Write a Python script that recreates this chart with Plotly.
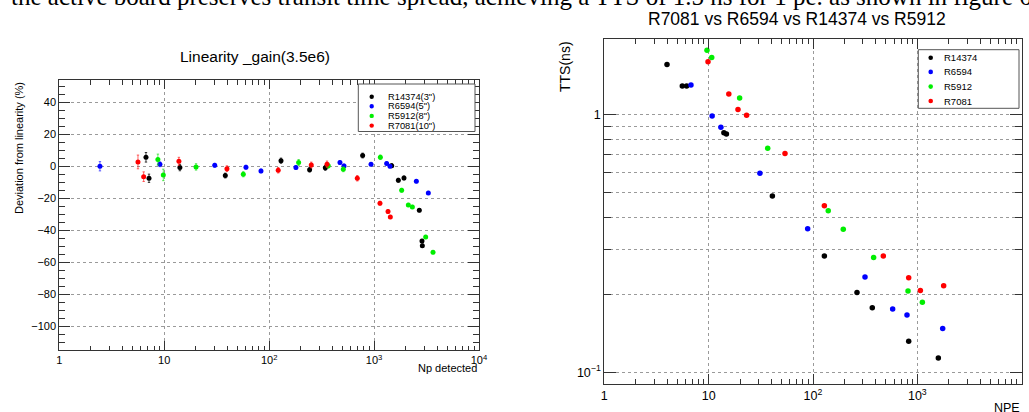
import plotly.graph_objects as go

W, H = 1029, 412

# ---------------- Left panel: Linearity ----------------
lin_names = ['R14374(3")', 'R6594(5")', 'R5912(8")', 'R7081(10")']

lin_x_R14374 = [6.7, 7.16, 14.1, 38.2, 129.7, 243, 343, 778, 1472, 1703, 1928, 2699, 2862, 2884]
lin_y_R14374 = [5.6, -7.5, -0.8, -5.8, 3.5, -2.1, -1.0, 6.7, 0.4, -8.75, -7.3, -27.5, -46.7, -49.6]
lin_e_R14374 = [3.0, 2.6, 2.0, 1.5, 1.6, 1.5, 1.5, 1.5, 1.2, 1.2, 1.2, 1.0, 1.0, 1.0]

lin_x_R6594 = [2.44, 9.1, 30.3, 60.1, 83.6, 180, 473, 517, 935, 1318, 1418, 2529, 3290]
lin_y_R6594 = [0.0, 1.25, 0.6, -0.6, -2.9, -0.8, 2.3, 0.2, 1.25, 1.7, 0.0, -9.4, -16.7]
lin_e_R6594 = [2.9, 1.5, 1.2, 1.2, 1.2, 1.2, 1.2, 1.2, 1.0, 1.0, 1.0, 1.0, 1.0]

lin_x_R5912 = [8.7, 9.8, 20.1, 56.7, 191, 366, 509, 1148, 1832, 2120, 2316, 3103, 3645]
lin_y_R5912 = [4.2, -5.4, -0.4, -5.0, 2.3, 0.4, -1.9, 5.6, -15.0, -24.2, -25.4, -44.2, -53.75]
lin_e_R5912 = [3.4, 3.6, 2.0, 1.6, 1.9, 1.6, 1.5, 1.4, 1.2, 1.0, 1.0, 1.0, 1.0]

lin_x_R7081 = [5.62, 6.37, 13.8, 39.6, 122, 252, 356, 692, 1138, 1358, 1429]
lin_y_R7081 = [2.7, -6.5, 3.1, -1.5, -2.5, 0.8, 1.25, -7.5, -23.1, -28.3, -31.7]
lin_e_R7081 = [4.3, 3.0, 2.5, 1.8, 1.7, 1.8, 2.0, 1.7, 1.2, 1.2, 1.0]

# ---------------- Right panel: TTS ----------------
tts_names = ["R14374", "R6594", "R5912", "R7081"]

tts_x_R14374 = [3.99, 5.59, 6.15, 14.0, 14.8, 40.8, 128.5, 264, 370, 826, 1589]
tts_y_R14374 = [1.57, 1.296, 1.296, 0.853, 0.843, 0.484, 0.283, 0.204, 0.178, 0.132, 0.1137]

tts_x_R6594 = [6.77, 10.8, 13.1, 31.0, 88.9, 315, 580, 796, 1749]
tts_y_R6594 = [1.308, 0.991, 0.895, 0.593, 0.361, 0.2346, 0.176, 0.167, 0.148]

tts_x_R5912 = [9.64, 10.7, 19.8, 36.8, 140, 195, 381, 814, 1117]
tts_y_R5912 = [1.784, 1.671, 1.164, 0.742, 0.424, 0.360, 0.279, 0.207, 0.187]

tts_x_R7081 = [9.86, 15.6, 19.1, 23.1, 53.9, 128.5, 472, 826, 1069, 1787]
tts_y_R7081 = [1.611, 1.207, 1.049, 0.997, 0.708, 0.444, 0.283, 0.233, 0.208, 0.217]

colors = ["#000000", "#0000ff", "#00ee00", "#ff0000"]
err_colors = ["rgba(0,0,0,0.75)", "rgba(0,0,255,0.6)", "rgba(0,220,0,0.6)", "rgba(255,0,0,0.6)"]

log_tickvals = [1, 10, 100, 1000, 10000]
log_ticktext = ["1", "10", "10<sup>2</sup>", "10<sup>3</sup>", "10<sup>4</sup>"]
log_minor = [m * d for d in (1, 10, 100, 1000) for m in range(2, 10)]

lin_tickvals = [-100, -80, -60, -40, -20, 0, 20, 40]
lin_ticktext = ["\u2212100", "\u221280", "\u221260", "\u221240", "\u221220", "0", "20", "40"]
lin_minor = [v for v in range(-110, 55, 5) if v % 20 != 0]

tts_tickvals = [0.1, 1]
tts_ticktext = ["10<sup>\u22121</sup>", "1"]
tts_minor = [0.2, 0.3, 0.4, 0.5, 0.6, 0.7, 0.8, 0.9]

FONT = "Liberation Sans, Arial, Helvetica, sans-serif"


def fx(p):
    return p / W


def fy(p):
    return 1 - p / H


fig = go.Figure()

lin_sets = [
    (lin_x_R14374, lin_y_R14374, lin_e_R14374),
    (lin_x_R6594, lin_y_R6594, lin_e_R6594),
    (lin_x_R5912, lin_y_R5912, lin_e_R5912),
    (lin_x_R7081, lin_y_R7081, lin_e_R7081),
]
for (xs, ys, es), name, c, ec in zip(lin_sets, lin_names, colors, err_colors):
    fig.add_trace(go.Scatter(
        x=xs, y=ys, mode="markers", name=name, showlegend=False,
        marker=dict(color=c, size=5, line=dict(width=0)),
        error_y=dict(type="data", array=es, color=ec, thickness=1, width=1.2),
        xaxis="x", yaxis="y",
    ))

tts_sets = [
    (tts_x_R14374, tts_y_R14374),
    (tts_x_R6594, tts_y_R6594),
    (tts_x_R5912, tts_y_R5912),
    (tts_x_R7081, tts_y_R7081),
]
for (xs, ys), name, c in zip(tts_sets, tts_names, colors):
    fig.add_trace(go.Scatter(
        x=xs, y=ys, mode="markers", name=name, showlegend=False,
        marker=dict(color=c, size=5.5, line=dict(width=0)),
        xaxis="x2", yaxis="y2",
    ))

frame = dict(showline=True, linecolor="#333333", linewidth=1, mirror="ticks",
             ticks="inside", tickcolor="#333333", zeroline=False, automargin=False,
             gridcolor="#9a9a9a", griddash="dot", gridwidth=1)

fig.update_layout(
    width=W, height=H,
    margin=dict(l=0, r=0, t=0, b=0, autoexpand=False),
    paper_bgcolor="white", plot_bgcolor="white",
    font=dict(family=FONT, color="black"),
    xaxis=dict(domain=[fx(59.3), fx(479)], type="log", range=[0, 4],
               tickvals=log_tickvals, ticktext=log_ticktext, ticklen=9,
               tickfont=dict(size=11), anchor="y", showgrid=True,
               minor=dict(tickvals=log_minor, ticklen=4.5, ticks="inside",
                          tickcolor="#333333", showgrid=False),
               **frame),
    yaxis=dict(domain=[fy(350), fy(80)], range=[-114.8, 53.9],
               tickvals=lin_tickvals, ticktext=lin_ticktext, ticklen=11,
               tickfont=dict(size=11), anchor="x", showgrid=True,
               minor=dict(tickvals=lin_minor, ticklen=6, ticks="inside",
                          tickcolor="#333333", showgrid=False),
               **frame),
    xaxis2=dict(domain=[fx(604.3), fx(1021.7)], type="log", range=[0, 4],
                tickvals=log_tickvals, ticktext=log_ticktext, ticklen=10,
                tickfont=dict(size=12.5), anchor="y2", showgrid=True,
                minor=dict(tickvals=log_minor, ticklen=5, ticks="inside",
                           tickcolor="#333333", showgrid=False),
                **frame),
    yaxis2=dict(domain=[fy(384), fy(39.3)], type="log", range=[-1.0455, 0.294],
                tickvals=tts_tickvals, ticktext=tts_ticktext, ticklen=12,
                tickfont=dict(size=12.5), anchor="x2", showgrid=True,
                minor=dict(tickvals=tts_minor, ticklen=6.5, ticks="inside",
                           tickcolor="#333333", showgrid=True,
                           gridcolor="#9a9a9a", griddash="dot", gridwidth=1),
                **frame),
)

annotations = []
shapes = []

# cut-off line of body text at the very top
annotations.append(dict(
    text="the active board preserves transit time spread, achieving a TTS of 1.5 ns for 1 pe. as shown in figure 6",
    x=fx(9), y=fy(12), xref="paper", yref="paper", xanchor="left", yanchor="bottom",
    showarrow=False, font=dict(family="Liberation Serif, DejaVu Serif, serif", size=25, color="black"),
))

# titles
annotations.append(dict(text="Linearity _gain(3.5e6)", x=fx(255), y=fy(56.7), xref="paper", yref="paper",
                        xanchor="center", yanchor="middle", showarrow=False, font=dict(size=15.5)))
annotations.append(dict(text="R7081 vs R6594 vs R14374 vs R5912", x=fx(796.7), y=fy(19.3), xref="paper",
                        yref="paper", xanchor="center", yanchor="middle", showarrow=False, font=dict(size=17.5)))

# axis titles
annotations.append(dict(text="Deviation from linearity (%)", x=fx(19), y=fy(80), xref="paper", yref="paper",
                        xanchor="center", yanchor="top", textangle=-90, showarrow=False, font=dict(size=11)))
annotations.append(dict(text="Np detected", x=fx(479), y=fy(367.5), xref="paper", yref="paper",
                        xanchor="right", yanchor="middle", showarrow=False, font=dict(size=11)))
annotations.append(dict(text="TTS(ns)", x=fx(565), y=fy(39.5), xref="paper", yref="paper",
                        xanchor="center", yanchor="top", textangle=-90, showarrow=False, font=dict(size=14)))
annotations.append(dict(text="NPE", x=fx(1022), y=fy(407.5), xref="paper", yref="paper",
                        xanchor="right", yanchor="middle", showarrow=False, font=dict(size=12.5)))


def legend(box, names, rows_y, mx, tx, r, fsize):
    x0, y0, x1, y1 = box
    shapes.append(dict(type="rect", xref="paper", yref="paper", x0=fx(x0), x1=fx(x1), y0=fy(y1), y1=fy(y0),
                       line=dict(color="#555555", width=1), fillcolor="white", layer="above"))
    for name, c, yy in zip(names, colors, rows_y):
        shapes.append(dict(type="circle", xref="paper", yref="paper", x0=fx(mx - r), x1=fx(mx + r),
                           y0=fy(yy + r), y1=fy(yy - r), fillcolor=c, line=dict(width=0), layer="above"))
        annotations.append(dict(text=name, x=fx(tx), y=fy(yy), xref="paper", yref="paper", xanchor="left",
                                yanchor="middle", showarrow=False, font=dict(size=fsize)))


legend((358.3, 84, 475, 131.5), lin_names, [96.7, 106.2, 115.9, 125.6], 371.7, 385.5, 2.2, 9.3)
legend((918.3, 49.7, 1019, 108.3), tts_names, [57.7, 71.9, 86.6, 101], 930.7, 942.3, 2.3, 9.5)

fig.update_layout(annotations=annotations, shapes=shapes)
fig.write_html("out.html", config={"displayModeBar": False},
               post_script="document.body.style.margin='0px';document.body.style.padding='0px';")
